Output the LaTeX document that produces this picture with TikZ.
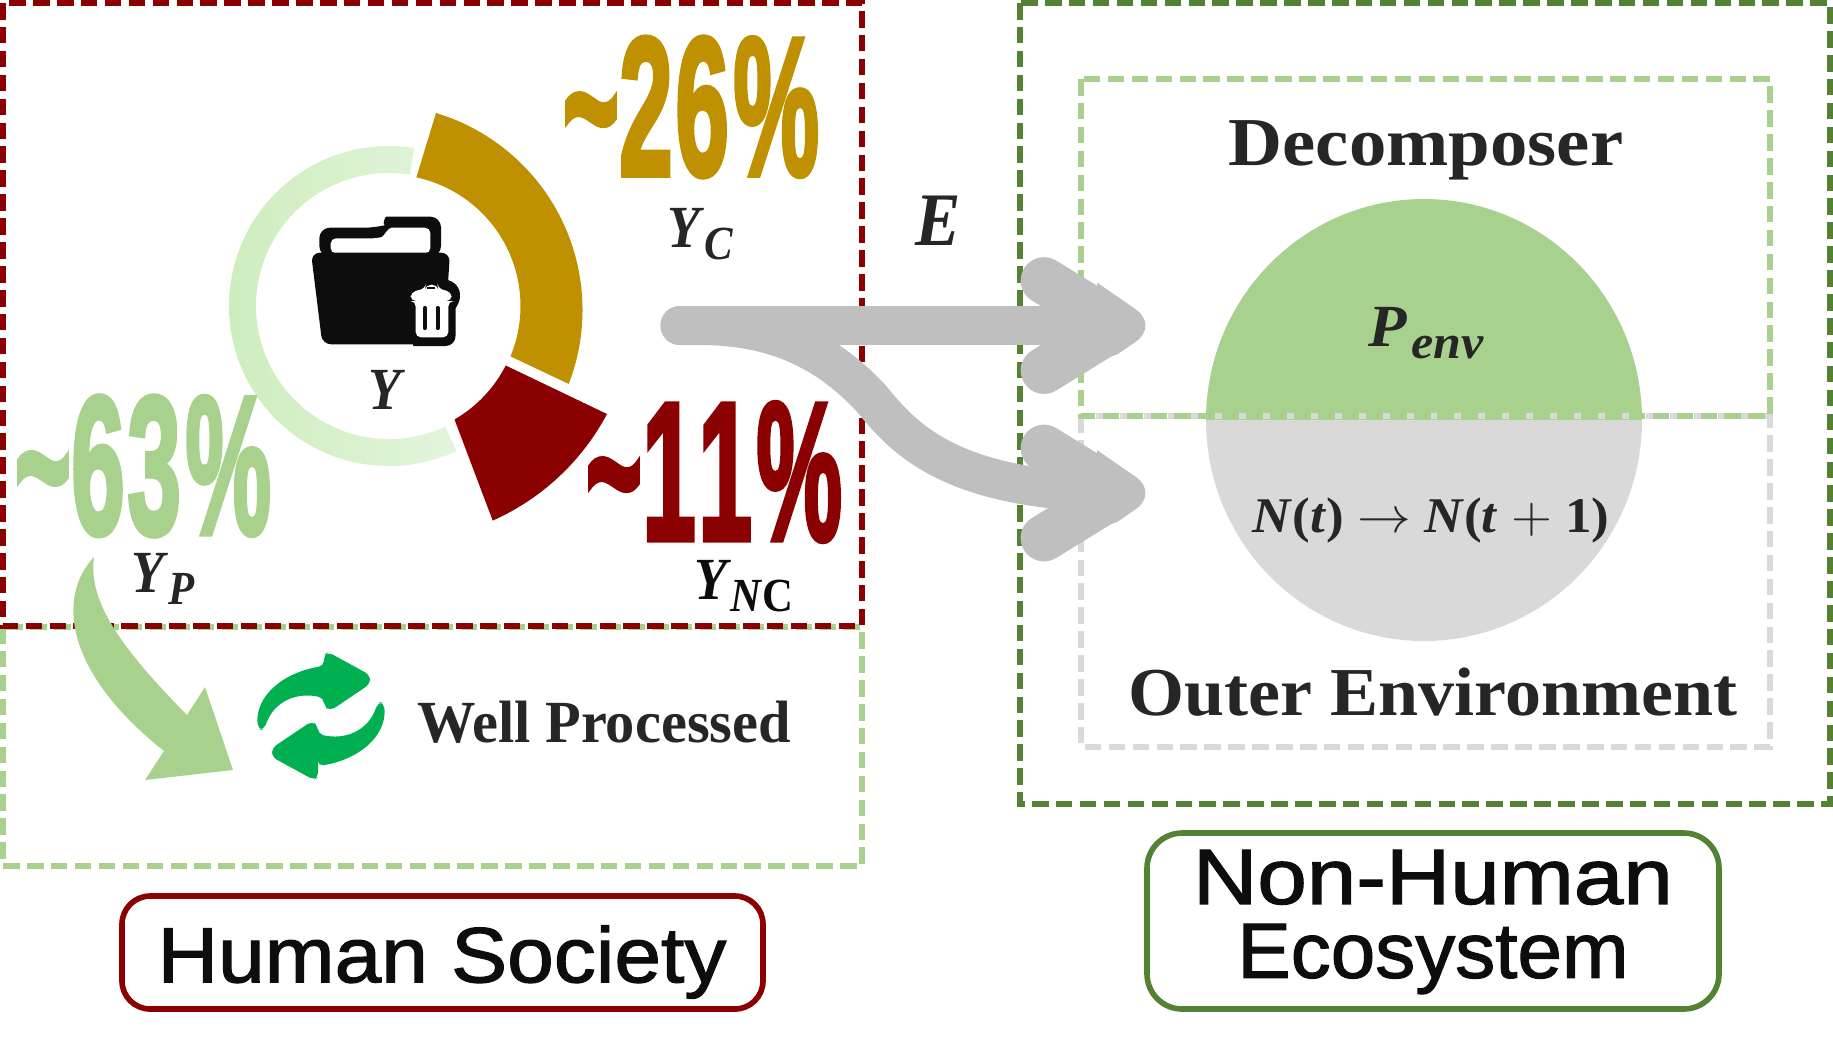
\documentclass[tikz,border=0pt]{standalone}
\usepackage{fontspec}
\setmainfont{Liberation Serif}
\setsansfont{Liberation Sans}
\newfontfamily\pctfont[FakeBold=3]{Liberation Sans Bold}
\newfontfamily\tagfont[FakeBold=1.5]{Liberation Sans}
\definecolor{wastered}{HTML}{8B0000}
\definecolor{wastegold}{HTML}{BF9000}
\definecolor{softgreen}{HTML}{A9D18E}
\definecolor{ringleft}{HTML}{CDEDBC}
\definecolor{ringright}{HTML}{E3F4DB}
\definecolor{deepgreen}{HTML}{548235}
\definecolor{softgrey}{HTML}{D9D9D9}
\definecolor{flowgrey}{HTML}{BFBFBF}
\definecolor{iconblack}{HTML}{0D0D0D}
\definecolor{inkgrey}{HTML}{262626}
\definecolor{cyclegreen}{HTML}{00B050}
\newcommand{\ysub}[2]{{\bfseries\itshape #1}\hspace{1.2pt}\raisebox{-3.6pt}{\fontsize{13.5}{13.5}\selectfont\bfseries\itshape #2}}
\newcommand{\pcttext}[2]{\textasciitilde#1\hspace{1.5pt}#2\hspace{2.5pt}\%}
\tikzset{
  dashbox/.style={line width=1.6pt, dash pattern=on 4.7pt off 2.1pt},
  pct/.style={font=\pctfont\fontsize{56}{56}\selectfont, inner sep=0pt, transform shape, xscale=.49},
  sym/.style={font=\fontsize{17}{17}\selectfont, text=inkgrey, inner sep=0pt, anchor=base, transform shape, xscale=.9},
  title/.style={font=\bfseries\fontsize{19.5}{19.5}\selectfont, text=inkgrey, inner sep=0pt, anchor=base, transform shape},
  tag/.style={font=\tagfont\fontsize{22.3}{21}\selectfont, text=iconblack, inner sep=0pt, align=center, transform shape},
  flow/.style={flowgrey, line width=11.1pt, line cap=round},
  flowhead/.style={flowgrey, line width=13.3pt, line cap=round, line join=round}
}
\begin{document}
\begin{tikzpicture}[x=.01cm, y=-.01cm]
  \useasboundingbox (0,0) rectangle (1833,1053);

  \draw[dashbox, softgreen] (3,627) rectangle (862,866);
  \draw[dashbox, wastered] (3,3) rectangle (862,626);
  \draw[dashbox, deepgreen] (1020,3) rectangle (1830,804);

  \fill[softgreen] (1206,420) arc[start angle=180, end angle=360, x radius=218, y radius=221] -- cycle;
  \fill[softgrey] (1642,420) arc[start angle=0, end angle=180, x radius=218, y radius=221] -- cycle;
  \draw[dashbox, softgrey] (1081,416) rectangle (1770,747);
  \draw[dashbox, softgreen] (1081,79) rectangle (1770,416);

  \begin{scope}[shift={(389,306)}]
    \path[left color=ringleft, right color=ringright] (-81:160) arc[start angle=-81, end angle=-295, radius=160]
      -- (-295:133) arc[start angle=-295, end angle=-81, radius=133] -- cycle;
    \fill[wastegold] (-78:131.5) -- (47,-193) arc[start angle=-73.3, end angle=21.1, radius=205.6]
      -- (22.5:131.5) arc[start angle=22.5, end angle=-78, radius=131.5] -- cycle;
    \fill[wastered] (27:131) -- (218,108) arc[start angle=28, end angle=66, radius=240]
      -- (60:131) arc[start angle=60, end angle=27, radius=131] -- cycle;
  \end{scope}

  \begin{scope}[shift={(290,200)}, scale=1/3]
    \fill[iconblack, rounded corners=3pt] (88,170) -- (88,83) -- (255,83) .. controls (275,78) and (285,50) .. (320,50) -- (453,50) -- (453,170) -- cycle;
    \fill[white, rounded corners=1.5pt] (122,160) -- (122,115) -- (260,115) .. controls (280,110) and (295,83) .. (320,83) -- (421,83) -- (421,160) -- cycle;
    \fill[iconblack, rounded corners=2.5pt] (63,158) -- (480,158) -- (462,433) -- (97,433) -- cycle;
    \fill[iconblack] (460,238) .. controls (495,240) and (512,265) .. (510,290) .. controls (510,305) and (500,318) .. (497,325)
      -- (497,405) .. controls (497,425) and (485,438) .. (465,438) -- (370,438) -- (350,300) -- cycle;
    \fill[white, rounded corners=1.5pt] (362,303) -- (362,276) -- (405,266) -- (408,254) -- (442,254) -- (445,266) -- (485,276) -- (485,303) -- (475,303) -- (475,412) -- (377,412) -- (377,303) -- cycle;
    \draw[iconblack, line width=1.2pt, line cap=round] (405,324) -- (405,384) (443,324) -- (443,384);
    \fill[iconblack] (412,266) rectangle (436,260);
  \end{scope}

  \fill[softgreen] (94,557) .. controls (58,595) and (62,670) .. (164,751) -- (145,780) -- (233,770) -- (205,687) -- (187,715)
    .. controls (118,645) and (88,600) .. (94,557) -- cycle;

  \foreach \turn in {0,180} {
    \begin{scope}[rotate around={\turn:(321,716)}]
      \fill[cyclegreen, rounded corners=1.5pt] (324,666) -- (324,655) -- (328,652) -- (370,675) -- (370,684) -- (330,711) -- (324,706) -- (324,698)
        .. controls (298,692) and (274,700) .. (264,730) -- (258,729) .. controls (255,695) and (285,672) .. (324,666) -- cycle;
    \end{scope}
  }

  \coordinate (src) at (680,325.5);
  \coordinate (tipa) at (1117,325.5);
  \coordinate (tipb) at (1117,493);
  \draw[flow] (src) -- (tipa);
  \draw[flow] (src) -- (700,325.5) .. controls (780,325.5) and (830,355) .. (870,397) .. controls (905,440) and (950,490) .. (tipb);
  \foreach \tip in {tipa,tipb} {
    \begin{scope}[shift={(\tip)}]
      \draw[flowhead] (-73,-45) -- (0,0) -- (-73,45);
      \fill[flowgrey] (-20,-43) [rounded corners=8pt] -- (42,0) -- (-20,43) [sharp corners] -- cycle;
    \end{scope}
  }

  \node[pct, text=wastegold] (pctc) at (691,107) {\pcttext{2}{6}};
  \node[pct, text=softgreen] (pctp) at (143,466) {\pcttext{6}{3}};
  \node[pct, text=wastered] (pctnc) at (714,472) {\pcttext{1}{1}};

  \node[sym] (ytotal) at (385,409) {\bfseries\itshape Y};
  \node[sym] (yc) at (700,247) {\ysub{Y}{C}};
  \node[sym] (yp) at (163,592) {\ysub{Y}{P}};
  \node[sym, text=iconblack] (ync) at (744,599) {\ysub{Y}{N\textup{C}}};
  \node[sym, font=\fontsize{21.5}{21.5}\selectfont] (flowe) at (938,245) {\bfseries\itshape E};
  \node[sym, xscale=1.17] (penv) at (1426,346) {\ysub{P}{env}};
  \node[sym, font=\fontsize{14.2}{14.2}\selectfont, xscale=1.18] (ntime) at (1431,532) {\bfseries\textit{N}(\textit{t}) $\rightarrow$ \textit{N}(\textit{t} $+$ 1)};

  \node[title, font=\bfseries\fontsize{17}{17}\selectfont, xscale=.977] (well) at (604,742) {Well Processed};
  \node[title, xscale=1.09] (decomp) at (1426,165) {Decomposer};
  \node[title, xscale=1.05] (outer) at (1433,715) {Outer Environment};

  \draw[wastered, line width=1.6pt, rounded corners=8pt] (122,896) rectangle (763,1009);
  \node[tag, xscale=1.07] (human) at (442,962) {Human Society};
  \draw[deepgreen, line width=1.6pt, rounded corners=10pt] (1147,833) rectangle (1719,1009);
  \node[tag] (nonhuman) at (1433,922) {\scalebox{1.135}[1]{Non-Human}\\\scalebox{1.02}[1]{Ecosystem}};
\end{tikzpicture}
\end{document}
